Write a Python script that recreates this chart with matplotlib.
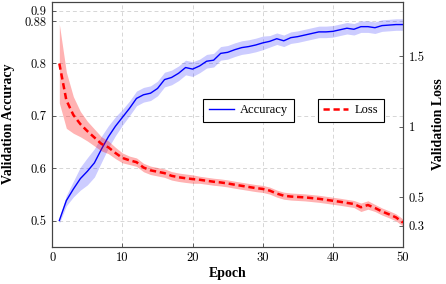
import numpy as np
import matplotlib
matplotlib.use("Agg")
import matplotlib.pyplot as plt
from matplotlib.lines import Line2D

plt.rcParams['axes.unicode_minus'] = False

epochs = list(range(1, 51))

accuracy = [0.500, 0.538, 0.560, 0.580, 0.594, 0.610, 0.636, 0.660, 0.680, 0.697,
            0.714, 0.733, 0.740, 0.743, 0.752, 0.769, 0.773, 0.781, 0.792, 0.789,
            0.795, 0.804, 0.806, 0.819, 0.821, 0.826, 0.830, 0.832, 0.835, 0.839,
            0.842, 0.847, 0.843, 0.849, 0.851, 0.854, 0.857, 0.860, 0.860, 0.861,
            0.864, 0.867, 0.865, 0.870, 0.870, 0.868, 0.872, 0.873, 0.874, 0.874]
accuracy_std = [0.005, 0.010, 0.015, 0.022, 0.026, 0.027, 0.025, 0.021, 0.018, 0.015,
                0.014, 0.014, 0.014, 0.014, 0.014, 0.014, 0.014, 0.014, 0.014, 0.014,
                0.013, 0.013, 0.013, 0.013, 0.013, 0.013, 0.013, 0.013, 0.013, 0.013,
                0.011, 0.011, 0.011, 0.011, 0.011, 0.011, 0.011, 0.011, 0.011, 0.011,
                0.011, 0.011, 0.011, 0.011, 0.011, 0.011, 0.011, 0.011, 0.011, 0.011]

loss = [1.450, 1.190, 1.085, 1.020, 0.970, 0.925, 0.880, 0.855, 0.815, 0.780,
        0.763, 0.750, 0.712, 0.692, 0.682, 0.672, 0.653, 0.643, 0.636, 0.630,
        0.625, 0.618, 0.611, 0.606, 0.599, 0.590, 0.582, 0.574, 0.566, 0.560,
        0.548, 0.527, 0.512, 0.506, 0.503, 0.500, 0.495, 0.490, 0.483, 0.476,
        0.469, 0.461, 0.453, 0.430, 0.446, 0.425, 0.400, 0.380, 0.358, 0.321]
loss_std = [0.280, 0.200, 0.130, 0.090, 0.070, 0.060, 0.050, 0.045, 0.040, 0.035,
            0.030, 0.030, 0.030, 0.030, 0.030, 0.030, 0.030, 0.030, 0.030, 0.030,
            0.025, 0.025, 0.025, 0.025, 0.025, 0.025, 0.025, 0.025, 0.025, 0.025,
            0.025, 0.025, 0.025, 0.025, 0.025, 0.025, 0.025, 0.025, 0.025, 0.025,
            0.025, 0.025, 0.025, 0.030, 0.030, 0.025, 0.025, 0.025, 0.025, 0.025]

acc_ticks = [0.5, 0.6, 0.7, 0.8, 0.88, 0.9]
acc_ticklabels = ['0.5', '0.6', '0.7', '0.8', '0.88', '0.9']
loss_ticks = [0.3, 0.5, 1, 1.5]
loss_ticklabels = ['0.3', '0.5', '1', '1.5']
x_ticks = [0, 10, 20, 30, 40, 50]

tick_font = dict(family='cmr10', size=9)
label_font = dict(family='Liberation Serif', size=10, weight='bold')

fig = plt.figure(figsize=(4.46, 2.84), dpi=100)
ax = fig.add_axes([0.1173, 0.1313, 0.7863, 0.8634])
ax2 = ax.twinx()

ep = np.array(epochs)
acc = np.array(accuracy)
acc_s = np.array(accuracy_std)
ls = np.array(loss)
ls_s = np.array(loss_std)

ax.fill_between(ep, acc - acc_s, acc + acc_s, color='#0000ff', alpha=0.2, linewidth=0)
ax.plot(ep, acc, color='#0000ff', linewidth=1.0, zorder=3)

ax2.fill_between(ep, ls - ls_s, ls + ls_s, color='#ff0000', alpha=0.3, linewidth=0)
ax2.plot(ep, ls, color='#ff0000', linewidth=1.8, dashes=(2.5, 1.5), zorder=3)

ax.set_xlim(0, 50)
ax.set_ylim(0.45, 0.918)
ax2.set_ylim(0.15, 1.89)

ax.set_xticks(x_ticks)
ax.set_xticklabels([str(t) for t in x_ticks], fontdict=tick_font)
ax.set_yticks(acc_ticks)
ax.set_yticklabels(acc_ticklabels, fontdict=tick_font)
ax2.set_yticks(loss_ticks)
ax2.set_yticklabels(loss_ticklabels, fontdict=tick_font)

for a in (ax, ax2):
    a.tick_params(direction='in', length=3, width=0.6, colors='#444444', labelcolor='black', pad=4)
    for sp in a.spines.values():
        sp.set_color('#444444')
        sp.set_linewidth(0.8)

ax.grid(True, color='#d6d6d6', linestyle=(0, (4, 3)), linewidth=0.7)
ax.set_axisbelow(True)

ax.set_xlabel('Epoch', fontdict=label_font, labelpad=2)
ax.set_ylabel('Validation Accuracy', fontdict=label_font, labelpad=7)
ax2.set_ylabel('Validation Loss', fontdict=label_font, labelpad=5)

acc_handle = Line2D([], [], color='#0000ff', linewidth=1.0)
loss_handle = Line2D([], [], color='#ff0000', linewidth=1.8, dashes=(2.5, 1.5))
leg_props = dict(family='Liberation Serif', size=9)
leg1 = ax2.legend([acc_handle], ['Accuracy'], loc='center', bbox_to_anchor=(0.5595, 0.556),
                  prop=leg_props, fancybox=False, edgecolor='black', framealpha=1,
                  handlelength=2.0, borderpad=0.45, handletextpad=0.5)
leg1.get_frame().set_linewidth(0.8)
ax2.add_artist(leg1)
leg2 = ax2.legend([loss_handle], ['Loss'], loc='center', bbox_to_anchor=(0.851, 0.556),
                  prop=leg_props, fancybox=False, edgecolor='black', framealpha=1,
                  handlelength=2.0, borderpad=0.45, handletextpad=0.5)
leg2.get_frame().set_linewidth(0.8)

fig.savefig('out.png', dpi=100)
